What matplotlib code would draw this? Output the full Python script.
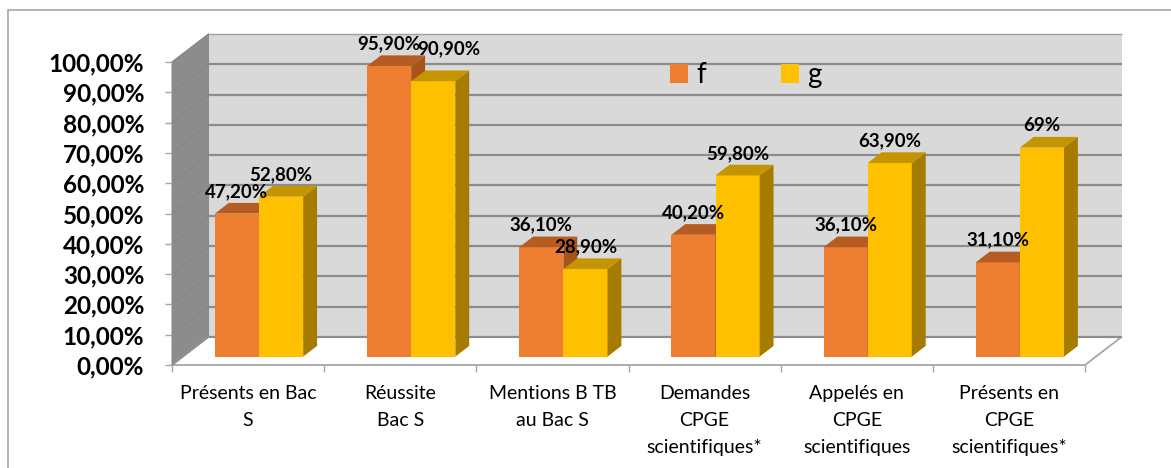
import matplotlib
matplotlib.use("Agg")
import matplotlib.pyplot as plt
from matplotlib.patches import Polygon, Rectangle, Patch

# ---------------- data ----------------
categories = ["Présents en Bac\nS", "Réussite\nBac S", "Mentions B TB\nau Bac S",
              "Demandes\nCPGE\nscientifiques*", "Appelés en\nCPGE\nscientifiques",
              "Présents en\nCPGE\nscientifiques*"]
series_names = ["f", "g"]
f_values = [47.2, 95.9, 36.1, 40.2, 36.1, 31.1]
g_values = [52.8, 90.9, 28.9, 59.8, 63.9, 69.0]
f_labels = ["47,20%", "95,90%", "36,10%", "40,20%", "36,10%", "31,10%"]
g_labels = ["52,80%", "90,90%", "28,90%", "59,80%", "63,90%", "69%"]
y_ticks = [0, 10, 20, 30, 40, 50, 60, 70, 80, 90, 100]
y_tick_labels = [f"{v:.2f}".replace(".", ",") + "%" for v in y_ticks]

# ---------------- style ----------------
FONT = "Lato"
ORANGE, ORANGE_TOP, ORANGE_SIDE = "#ED7D31", "#B65C22", "#A8521C"
YELLOW, YELLOW_TOP, YELLOW_SIDE = "#FFC000", "#C49500", "#A67C00"
WALL_BACK, WALL_LEFT = "#D9D9D9", "#8C8C8C"
GRID = "#8C8C8C"
EDGE = "#A6A6A6"

DX, DY = 0.24, 9.25      # depth offset of the box (x in categories, y in %)
D0, D1 = 0.30, 0.68      # depth range occupied by the bars
BW = 0.29                # bar width
LABEL_SHIFT = {("g", 1): (0.10, 3.3)}   # manually moved data label in the original

W, H = 1171, 468
fig = plt.figure(figsize=(W / 100, H / 100), dpi=100)
fig.patch.set_facecolor("white")
ax = fig.add_axes([172 / W, 103 / H, 913 / W, 303 / H])
n = len(categories)
ax.set_xlim(0, n)
ax.set_ylim(0, 100)
for s in ax.spines.values():
    s.set_visible(False)
ax.patch.set_visible(False)

# outer chart border
fig.add_artist(Rectangle((8 / W, -0.2), 1.2, 1 - 10 / H + 0.2, transform=fig.transFigure,
                         fill=False, ec="#A6A6A6", lw=1.2))

# walls and floor
ax.add_patch(Polygon([(DX, DY), (n + DX, DY), (n + DX, 100 + DY), (DX, 100 + DY)],
                     closed=True, fc=WALL_BACK, ec="none", clip_on=False, zorder=0.5))
ax.add_patch(Polygon([(0, 0), (DX, DY), (DX, 100 + DY), (0, 100)],
                     closed=True, fc=WALL_LEFT, ec="#7F7F7F", lw=0.6, clip_on=False, zorder=0.6))
ax.add_patch(Polygon([(0, 0), (n, 0), (n + DX, DY), (DX, DY)],
                     closed=True, fc="white", ec=EDGE, lw=1.3, clip_on=False, zorder=0.7))
for v in y_ticks:
    top = v == y_ticks[-1]
    ax.plot([DX, n + DX], [v + DY, v + DY], color="#A0A0A0" if top else GRID,
            lw=1.0 if top else 1.6, clip_on=False, zorder=0.8, solid_capstyle="butt")
    ax.plot([0, DX], [v, v + DY], color="#858585", lw=0.7, clip_on=False, zorder=0.8)

# bars
base = D0 * DY
sx = D0 * DX
ddx = (D1 - D0) * DX
ddy = (D1 - D0) * DY
centers = [i + 0.5 for i in range(n)]
f_x = [c - BW + sx for c in centers]
g_x = [c + sx for c in centers]


def faces(xs, vals, top_c, side_c, z):
    for x0, v in zip(xs, vals):
        x1 = x0 + BW
        t = base + v
        ax.add_patch(Polygon([(x1, base), (x1 + ddx, base + ddy), (x1 + ddx, t + ddy), (x1, t)],
                             closed=True, fc=side_c, ec="none", zorder=z, clip_on=False))
        ax.add_patch(Polygon([(x0, t), (x1, t), (x1 + ddx, t + ddy), (x0 + ddx, t + ddy)],
                             closed=True, fc=top_c, ec="none", zorder=z, clip_on=False))


ax.bar(f_x, f_values, width=BW, bottom=base, align="edge", color=ORANGE, zorder=3, clip_on=False)
faces(f_x, f_values, ORANGE_TOP, ORANGE_SIDE, 3.5)
ax.bar(g_x, g_values, width=BW, bottom=base, align="edge", color=YELLOW, zorder=4, clip_on=False)
faces(g_x, g_values, YELLOW_TOP, YELLOW_SIDE, 4.5)

# data labels
for key, xs, vals, labs in (("f", f_x, f_values, f_labels), ("g", g_x, g_values, g_labels)):
    for i, (x0, v, lab) in enumerate(zip(xs, vals, labs)):
        ox, oy = LABEL_SHIFT.get((key, i), (0, 0))
        ax.text(x0 + BW / 2 + ox, base + v + 7.3 + oy, lab, ha="center", va="center",
                fontsize=13.5, fontweight="bold", family=FONT, zorder=10, clip_on=False)

# y axis
ax.set_yticks(y_ticks, y_tick_labels)
ax.tick_params(axis="y", length=5, width=1, color=EDGE, pad=15)
for t in ax.get_yticklabels():
    t.set_fontfamily(FONT)
    t.set_fontweight("bold")
    t.set_fontsize(17.5)

# x axis
ax.set_xticks(range(n + 1), [""] * (n + 1))
ax.tick_params(axis="x", length=5, width=1, color=EDGE, direction="out")
for c, lab in zip(centers, categories):
    ax.text(c, -0.066, lab, transform=ax.get_xaxis_transform(), ha="center", va="top",
            fontsize=14, family=FONT, linespacing=1.72)

# legend
handles = [Patch(fc=ORANGE, ec="none"), Patch(fc=YELLOW, ec="none")]
fig.legend(handles, series_names, ncol=2, frameon=False, loc="center left",
           bbox_to_anchor=(670 / W, 1 - 75 / H), borderaxespad=0, borderpad=0,
           prop={"family": FONT, "size": 20}, handlelength=0.65, handleheight=0.65,
           handletextpad=0.3, columnspacing=2.7)

fig.savefig("out.png", dpi=100)
